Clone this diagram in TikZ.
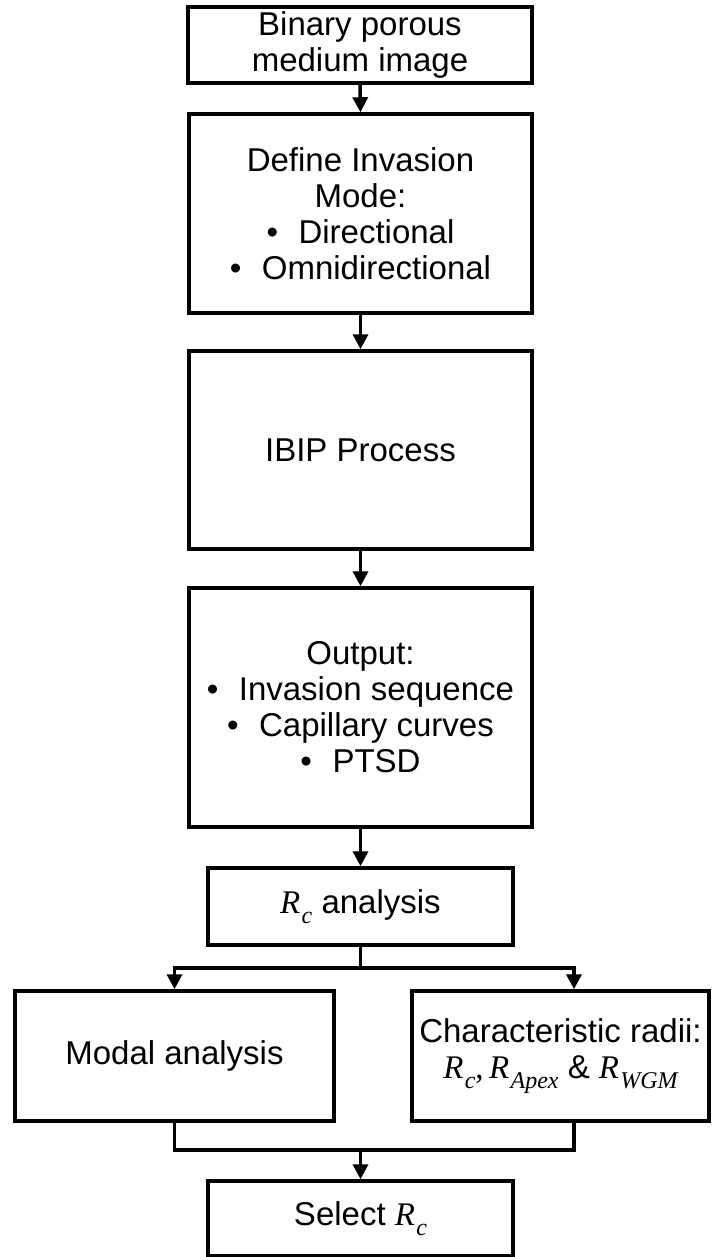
\documentclass[tikz,border=0pt]{standalone}
\usepackage{fontspec}
\setmainfont{Liberation Sans}
\newfontfamily\mfont{Liberation Serif}
\usetikzlibrary{arrows.meta}
\newcommand\bul{\textbullet\hspace{0.62em}}
\newcommand\Rs[1]{{\mfont\itshape R\kern0.04em\raisebox{-0.3em}{\fontsize{24}{24}\selectfont\mfont\itshape #1}}}
\tikzset{
  box/.style={draw=black, line width=3.5pt, fill=white, align=center, inner sep=0pt,
    font=\fontsize{33}{36}\selectfont},
  conn/.style={line width=3.5pt, draw=black},
  arr/.style={conn, -{Triangle[length=15pt,width=15pt]}}
}
\begin{document}
\begin{tikzpicture}[x=1pt,y=-1pt]
\useasboundingbox (0,0) rectangle (719,1257);
\node[box, minimum width=344pt, minimum height=76pt] (b1) at (360,45) {Binary porous\\medium image};
\node[box, minimum width=343pt, minimum height=199pt] (b2) at (360.5,213.5) {Define Invasion\\Mode:\\\bul Directional\\\bul Omnidirectional};
\node[box, minimum width=343pt, minimum height=198pt] (b3) at (360.5,450) {IBIP Process};
\node[box, minimum width=343pt, minimum height=239pt] (b4) at (360.5,707.5) {Output:\\\bul Invasion sequence\\\bul Capillary curves\\\bul PTSD};
\node[box, minimum width=305pt, minimum height=77pt] (b5) at (360.5,906.5) {\Rs{c} analysis};
\node[box, minimum width=319pt, minimum height=130pt] (b6) at (174.5,1056) {Modal analysis};
\node[box, minimum width=297pt, minimum height=130pt] (b7) at (560.5,1056) {Characteristic radii:\\\Rs{c}{\mfont,\,}\Rs{Apex} \& \Rs{WGM}};
\node[box, minimum width=305pt, minimum height=75pt] (b8) at (360.5,1218.5) {Select \Rs{c}};
\draw[arr] (b1.south) -- (b2.north);
\draw[arr] (b2.south) -- (b3.north);
\draw[arr] (b3.south) -- (b4.north);
\draw[arr] (b4.south) -- (b5.north);
\coordinate (br) at (360.5,968);
\coordinate (b7in) at ([xshift=13.5pt]b7.north);
\coordinate (b7out) at ([xshift=13.5pt]b7.south);
\coordinate (mg) at (360.5,1150);
\draw[conn] (b5.south) -- (br);
\draw[arr] (br) -| (b6.north);
\draw[arr] (br) -| (b7in);
\draw[conn] (b6.south) |- (mg);
\draw[conn] (b7out) |- (mg);
\draw[arr] (mg) -- (b8.north);
\end{tikzpicture}
\end{document}
